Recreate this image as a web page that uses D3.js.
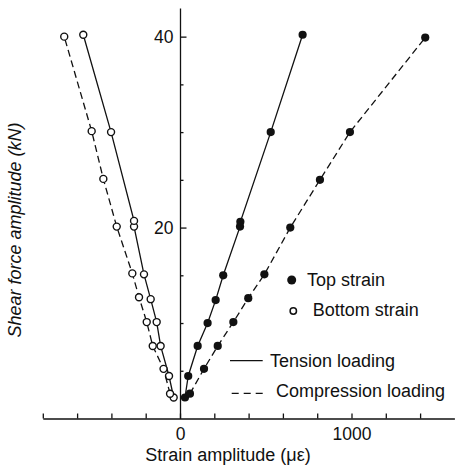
<!DOCTYPE html>
<html>
<head>
<meta charset="utf-8">
<script src="https://cdn.jsdelivr.net/npm/d3@7"></script>
<style>
  body { margin: 0; background: #fff; }
  svg { display: block; font-family: "Liberation Sans", Arial, sans-serif; }
</style>
</head>
<body>
<div id="app"></div>
<script>
// strain in microstrain, force in kN
const topTensionStrain = [29, 48, 103, 161, 208, 252, 350, 352, 529, 715];
const topTensionForce  = [2.2, 4.45, 7.6, 10.0, 12.4, 15.0, 20.1, 20.6, 30.0, 40.2];

const topCompStrain = [58, 140, 220, 311, 398, 492, 643, 816, 991, 1430];
const topCompForce  = [2.6, 5.2, 7.6, 10.1, 12.6, 15.1, 20.0, 25.0, 30.0, 39.9];

const botTensionStrain = [-37, -64, -113, -136, -171, -210, -268, -268, -402, -564];
const botTensionForce  = [2.2, 4.45, 7.6, 10.1, 12.5, 15.1, 20.1, 20.7, 30.0, 40.2];

const botCompStrain = [-58, -96, -159, -194, -239, -278, -369, -447, -515, -675];
const botCompForce  = [2.6, 5.2, 7.6, 10.1, 12.7, 15.2, 20.1, 25.1, 30.1, 40.0];

const xTicks = [-800, -600, -400, -200, 0, 200, 400, 600, 800, 1000, 1200, 1400];
const xTickLabels = [0, 1000];
const yTicks = [5, 10, 15, 25, 30, 35];
const yTickLabels = [20, 40];

const width = 456, height = 469;
const ink = "#111";

const x = d3.scaleLinear().domain([-800, 1600]).range([42.8, 454.4]);
const y = d3.scaleLinear().domain([0, 43]).range([418.5, 8]);

const svg = d3.select("#app").append("svg")
    .attr("width", width)
    .attr("height", height)
    .attr("viewBox", [0, 0, width, height]);

svg.append("rect").attr("width", width).attr("height", height).attr("fill", "#fff");

// x axis, ticks point up
svg.append("g")
    .attr("transform", `translate(0,${y(0)})`)
    .call(d3.axisBottom(x)
      .tickValues(xTicks)
      .tickSize(-5)
      .tickSizeOuter(0)
      .tickPadding(9)
      .tickFormat(d => xTickLabels.includes(d) ? d : ""));

// y axis: minor ticks, then labelled major ticks
svg.append("g")
    .attr("transform", `translate(${x(0)},0)`)
    .call(d3.axisLeft(y)
      .tickValues(yTicks)
      .tickSize(-3.5)
      .tickSizeOuter(0)
      .tickFormat(""));
svg.append("g")
    .attr("transform", `translate(${x(0)},0)`)
    .call(d3.axisLeft(y)
      .tickValues(yTickLabels)
      .tickSize(-6.5)
      .tickSizeOuter(0)
      .tickPadding(6.5)
      .tickFormat(d => d))
    .call(g => g.select(".domain").remove());

svg.selectAll(".domain, .tick line").attr("stroke", ink).attr("stroke-width", 1.3);
svg.selectAll(".tick text").attr("fill", ink).attr("font-size", 17.5)
    .attr("font-family", "'Liberation Sans', Arial, sans-serif");

// axis titles
svg.append("text")
    .attr("x", 228).attr("y", 461)
    .attr("text-anchor", "middle")
    .attr("font-size", 18)
    .attr("fill", ink)
    .text("Strain amplitude (\u03bc\u03b5)");

svg.append("text")
    .attr("transform", "translate(21,230) rotate(-90)")
    .attr("text-anchor", "middle")
    .attr("font-size", 18)
    .attr("font-style", "italic")
    .attr("fill", ink)
    .text("Shear force amplitude (kN)");

const series = [
  {strain: topTensionStrain, force: topTensionForce, dash: null, filled: true},
  {strain: topCompStrain, force: topCompForce, dash: "7,4", filled: true},
  {strain: botTensionStrain, force: botTensionForce, dash: null, filled: false},
  {strain: botCompStrain, force: botCompForce, dash: "7,4", filled: false}
];

const line = d3.line().x(d => x(d[0])).y(d => y(d[1]));

series.forEach(s => {
  const pts = s.strain.map((v, i) => [v, s.force[i]]);
  svg.append("path")
      .attr("d", line(pts))
      .attr("fill", "none")
      .attr("stroke", ink)
      .attr("stroke-width", 1.3)
      .attr("stroke-dasharray", s.dash);
  svg.append("g").selectAll("circle")
    .data(pts)
    .join("circle")
      .attr("cx", d => x(d[0]))
      .attr("cy", d => y(d[1]))
      .attr("r", s.filled ? 4.1 : 3.5)
      .attr("fill", s.filled ? ink : "#fff")
      .attr("stroke", ink)
      .attr("stroke-width", s.filled ? 0 : 1.4);
});

// legend
const legend = svg.append("g").attr("fill", ink).attr("font-size", 18);
legend.append("circle").attr("cx", 291.7).attr("cy", 280).attr("r", 4.5).attr("fill", ink);
legend.append("text").attr("x", 307).attr("y", 286).text("Top strain");
legend.append("circle").attr("cx", 293.3).attr("cy", 311).attr("r", 3.2)
    .attr("fill", "#fff").attr("stroke", ink).attr("stroke-width", 1.5);
legend.append("text").attr("x", 312.7).attr("y", 316).text("Bottom strain");
legend.append("line").attr("x1", 230).attr("x2", 262.7).attr("y1", 360.7).attr("y2", 360.7)
    .attr("stroke", ink).attr("stroke-width", 1.3);
legend.append("text").attr("x", 270).attr("y", 366.7).text("Tension loading");
legend.append("line").attr("x1", 231.7).attr("x2", 266.7).attr("y1", 393.3).attr("y2", 393.3)
    .attr("stroke", ink).attr("stroke-width", 1.3).attr("stroke-dasharray", "7,5");
legend.append("text").attr("x", 276).attr("y", 396.7).text("Compression loading");
</script>
</body>
</html>
